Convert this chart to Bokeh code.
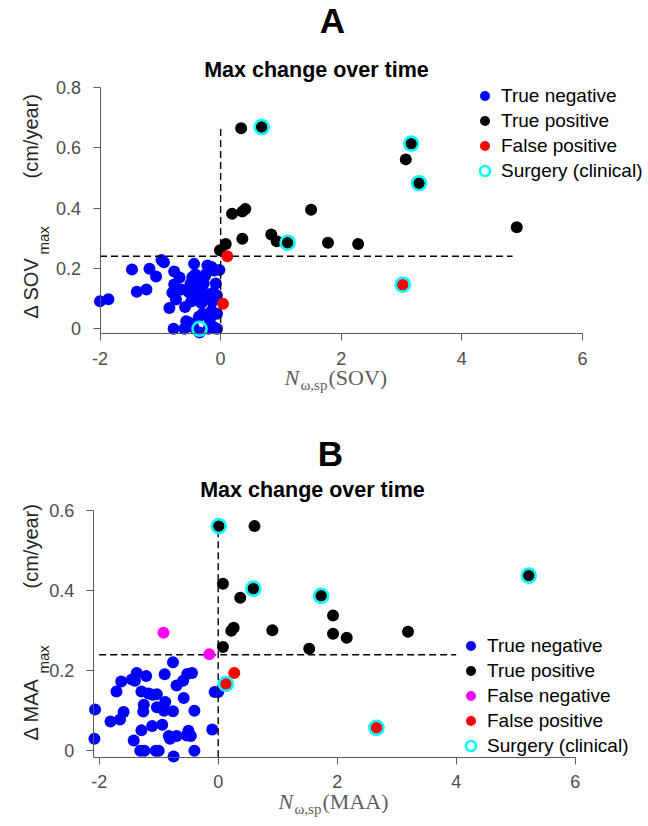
from math import pi
from bokeh.plotting import figure
from bokeh.layouts import column
from bokeh.models import (Range1d, Label, Legend, LegendItem, FixedTicker,
                          CustomJSTickFormatter)
from bokeh.embed import file_html
from bokeh.resources import INLINE

# ---------------- data ----------------
# Panel A : N_w,sp(SOV) vs Delta SOV_max
A_tn_x = [-2.00, -1.86, -1.47, -1.39, -1.23, -1.18, -1.07, -0.98, -0.94, -0.77,
          -0.77, -0.80, -0.74, -0.85, -0.78, -0.59, -0.60, -0.57, -0.44, -0.50,
          -0.52, -0.47, -0.42, -0.49, -0.40, -0.39, -0.30, -0.22, -0.11, -0.08,
          -0.32, -0.24, -0.14, -0.06, -0.32, -0.18, -0.06, -0.06, -0.20, -0.11,
          -0.35, -0.45, -0.52, -0.25, -0.15, -0.02, -0.65, -0.42, -0.28, -0.12,
          -0.68, -0.36, -0.15, -0.26]
A_tn_y = [0.091, 0.098, 0.196, 0.123, 0.130, 0.199, 0.173, 0.228, 0.220, 0.190,
          0.147, 0.119, 0.097, 0.069, 0.000, 0.072, 0.000, 0.025, 0.215, 0.149,
          0.120, 0.171, 0.180, 0.090, 0.112, 0.154, 0.050, 0.210, 0.193, 0.150,
          0.120, 0.115, 0.090, 0.110, 0.085, 0.030, 0.050, 0.000, 0.000, 0.005,
          -0.012, 0.005, 0.020, 0.180, 0.205, 0.195, 0.130, 0.135, 0.150, 0.120,
          0.170, 0.040, 0.060, 0.175]
A_tp_x = [0.34, 0.68, 0.085, -0.01, 0.19, 0.36, 0.41, 0.36, 3.16, 3.07, 3.29,
          1.50, 0.84, 0.93, 1.11, 1.78, 2.28, 4.91]
A_tp_y = [0.664, 0.668, 0.281, 0.260, 0.381, 0.388, 0.397, 0.298, 0.613, 0.561,
          0.482, 0.394, 0.312, 0.290, 0.285, 0.285, 0.281, 0.336]
A_fp_x = [0.11, 0.04, 3.02]
A_fp_y = [0.240, 0.083, 0.146]
A_sg_x = [0.68, 3.16, 3.29, 1.11, 3.02, -0.35]
A_sg_y = [0.668, 0.613, 0.482, 0.285, 0.146, 0.000]

# Panel B : N_w,sp(MAA) vs Delta MAA_max
B_tn_x = [-2.07, -2.08, -1.81, -1.65, -1.59, -1.71, -1.63, -1.45, -1.37, -1.21,
          -1.29, -1.25, -1.26, -1.17, -1.03, -1.03, -0.89, -0.91, -0.76, -1.11,
          -0.94, -1.29, -1.42, -1.31, -1.05, -1.24, -1.00, -0.83, -0.70, -0.81,
          -0.75, -0.53, -0.50, -0.46, -0.40, -0.40, -0.58, -0.70, -0.59, -0.52,
          -0.44, -0.90, -0.76, -0.10, -0.06, 0.00, -1.40, -1.10]
B_tn_y = [0.103, 0.030, 0.073, 0.078, 0.097, 0.148, 0.173, 0.178, 0.194, 0.187,
          0.148, 0.115, 0.098, 0.143, 0.141, 0.109, 0.122, 0.100, 0.099, 0.062,
          0.065, 0.051, 0.026, 0.000, 0.000, 0.000, 0.000, 0.037, 0.037, 0.030,
          -0.014, 0.038, 0.050, 0.037, 0.000, 0.100, 0.132, 0.163, 0.175, 0.192,
          0.194, 0.191, 0.221, 0.053, 0.147, 0.147, 0.175, 0.140]
B_tp_x = [0.01, 0.61, 0.08, 0.59, 0.37, 0.26, 0.22, 0.08, 1.73, 1.93, 0.91,
          1.93, 2.16, 1.53, 3.19, 5.22]
B_tp_y = [0.561, 0.561, 0.417, 0.405, 0.382, 0.307, 0.300, 0.259, 0.387, 0.338,
          0.301, 0.292, 0.282, 0.255, 0.297, 0.4375]
B_fn_x = [-0.92, -0.15]
B_fn_y = [0.295, 0.241]
B_fp_x = [0.27, 0.13, 2.66]
B_fp_y = [0.194, 0.167, 0.0575]
B_sg_x = [0.01, 0.59, 1.73, 5.22, 0.13, 2.66]
B_sg_y = [0.561, 0.405, 0.387, 0.4375, 0.167, 0.0575]

threshold = 0.24
A_hline_x = [-2.0, 4.84]
A_vline_top = 0.667
B_hline_x = [-2.0, 4.0]
B_vline_top = 0.56

x_ticks = [-2, 0, 2, 4, 6]
A_y_ticks = [0, 0.2, 0.4, 0.6, 0.8]
B_y_ticks = [0, 0.2, 0.4, 0.6]

legend_labels = {"tn": "True negative", "tp": "True positive",
                 "fn": "False negative", "fp": "False positive",
                 "sg": "Surgery (clinical)"}

SANS = "Liberation Sans"
SERIF = "Liberation Serif"
W = 648
K = 0.35   # empirical baseline correction (fraction of font size)


def make_panel(cfg):
    H, oy = cfg["H"], cfg["oy"]
    ax_x0, ax_x1 = cfg["xlim"]
    ax_y0, ax_y1 = cfg["ylim"]
    (px_a, vx_a), (px_b, vx_b) = cfg["xcal"]
    (py_a, vy_a), (py_b, vy_b) = cfg["ycal"]
    sx = (px_b - px_a) / (vx_b - vx_a)
    sy = (py_a - py_b) / (vy_b - vy_a)
    fx0 = vx_a - px_a / sx
    fx1 = fx0 + W / sx
    fy1 = vy_a + (py_a - oy) / sy
    fy0 = fy1 - H / sy

    p = figure(frame_width=W, frame_height=H,
               x_range=Range1d(fx0, fx1), y_range=Range1d(fy0, fy1),
               min_border=0, output_backend="svg", toolbar_location=None,
               background_fill_color="white", border_fill_color="white")
    p.outline_line_color = None
    p.xgrid.grid_line_color = None
    p.ygrid.grid_line_color = None

    def d(px, py):
        return fx0 + px / sx, fy1 - (py - oy) / sy

    def lab(text, px, py, size, font=SANS, style="normal", color="black",
            align="left", rotated=False):
        if rotated:
            x, y = d(px - K * size, py)
        else:
            x, y = d(px, py - K * size)
        p.add_layout(Label(x=x, y=y, text=text, text_align=align,
                           angle=(pi / 2 if rotated else 0), angle_units="rad",
                           text_baseline="alphabetic", text_font=font,
                           text_font_size=f"{size}px", text_font_style=style,
                           text_color=color))

    fmt = CustomJSTickFormatter(code="return String(Math.round(tick*10)/10)")
    xa, ya = p.xaxis[0], p.yaxis[0]
    xa.fixed_location = ax_y0
    xa.bounds = (ax_x0, ax_x1)
    ya.fixed_location = ax_x0
    ya.bounds = (ax_y0, ax_y1)
    for ax, ticks in ((xa, x_ticks), (ya, cfg["yticks"])):
        ax.ticker = FixedTicker(ticks=ticks)
        ax.formatter = fmt
        ax.axis_line_color = "#5a5a5a"
        ax.major_tick_line_color = "#5a5a5a"
        ax.minor_tick_line_color = None
        ax.major_tick_out = 7
        ax.major_tick_in = 0
        ax.major_label_text_font = SANS
        ax.major_label_text_font_size = "18px"
        ax.major_label_text_color = "#4d4d4d"
    xa.major_label_standoff = 11
    ya.major_label_standoff = 12

    rs = {}
    rs["tn"] = p.scatter(cfg["tn"][0], cfg["tn"][1], size=12, fill_color="#0000ff",
                         line_color=None)
    p.line(cfg["hline"], [threshold, threshold], line_color="black",
           line_width=1.4, line_dash="7 4")
    p.line([0, 0], [ax_y0, cfg["vtop"]], line_color="black",
           line_width=1.4, line_dash="7 4")
    rs["tp"] = p.scatter(cfg["tp"][0], cfg["tp"][1], size=12, fill_color="black",
                         line_color=None)
    if "fn" in cfg:
        rs["fn"] = p.scatter(cfg["fn"][0], cfg["fn"][1], size=12,
                             fill_color="#ff00ff", line_color=None)
    rs["fp"] = p.scatter(cfg["fp"][0], cfg["fp"][1], size=12, fill_color="#ff0000",
                         line_color=None)
    rs["sg"] = p.scatter(cfg["sg"][0], cfg["sg"][1], size=14, fill_color=None,
                         line_color="#00ffff", line_width=2.6)

    items = [LegendItem(label=legend_labels[k], renderers=[rs[k]])
             for k in cfg["legend_order"]]
    lg = Legend(items=items, location=cfg["legend_loc"], glyph_width=25,
                glyph_height=25, label_text_font=SANS, label_text_font_size="19px",
                label_text_color="black", label_standoff=4, spacing=0, padding=0,
                margin=0, border_line_color=None, background_fill_alpha=0)
    p.add_layout(lg)

    lab(cfg["letter"], *cfg["letter_pos"], 35, style="bold", align="center")
    lab("Max change over time", *cfg["title_pos"], 21.5, style="bold",
        align="center")
    for txt, px, py, size in cfg["ylab"]:
        lab(txt, px, py, size, color="#262626", rotated=True)
    for txt, px, py, size, style in cfg["xlab"]:
        lab(txt, px, py, size, font=SERIF, style=style, color="#5e5e5e")
    return p


cfgA = dict(H=420, oy=0, xlim=(-2.0, 6.0), ylim=(-0.017, 0.8),
            xcal=((99.5, -2.0), (582.0, 6.0)), ycal=((328.3, 0.0), (86.7, 0.8)),
            yticks=A_y_ticks,
            tn=(A_tn_x, A_tn_y), tp=(A_tp_x, A_tp_y), fp=(A_fp_x, A_fp_y),
            sg=(A_sg_x, A_sg_y), hline=A_hline_x, vtop=A_vline_top,
            legend_order=["tn", "tp", "fp", "sg"], legend_loc=(472, 237),
            letter="A", letter_pos=(332, 32), title_pos=(316, 77),
            ylab=[("\u0394", 37, 318, 20), ("SOV", 37, 300, 20),
                  ("max", 48, 254, 15), ("(cm/year)", 37, 178, 20)],
            xlab=[("N", 284, 385, 22, "italic"),
                  ("\u03c9,sp", 300, 390, 15, "normal"),
                  ("(SOV)", 328, 385, 22, "normal")])

cfgB = dict(H=406, oy=420, xlim=(-2.1, 6.0), ylim=(-0.016, 0.6),
            xcal=((217.7, 0.0), (455.7, 4.0)), ycal=((750.3, 0.0), (510.0, 0.6)),
            yticks=B_y_ticks,
            tn=(B_tn_x, B_tn_y), tp=(B_tp_x, B_tp_y), fn=(B_fn_x, B_fn_y),
            fp=(B_fp_x, B_fp_y), sg=(B_sg_x, B_sg_y), hline=B_hline_x,
            vtop=B_vline_top,
            legend_order=["tn", "tp", "fn", "fp", "sg"], legend_loc=(458, 68),
            letter="B", letter_pos=(330, 465), title_pos=(312, 497),
            ylab=[("\u0394", 37, 740, 20), ("MAA", 37, 722, 20),
                  ("max", 48, 673, 15), ("(cm/year)", 37, 588, 20)],
            xlab=[("N", 278, 809, 22, "italic"),
                  ("\u03c9,sp", 294, 814, 15, "normal"),
                  ("(MAA)", 322, 809, 22, "normal")])

pA = make_panel(cfgA)
pB = make_panel(cfgB)
layout = column(pA, pB, spacing=0)

open("out.html", "w").write(file_html(layout, INLINE))
